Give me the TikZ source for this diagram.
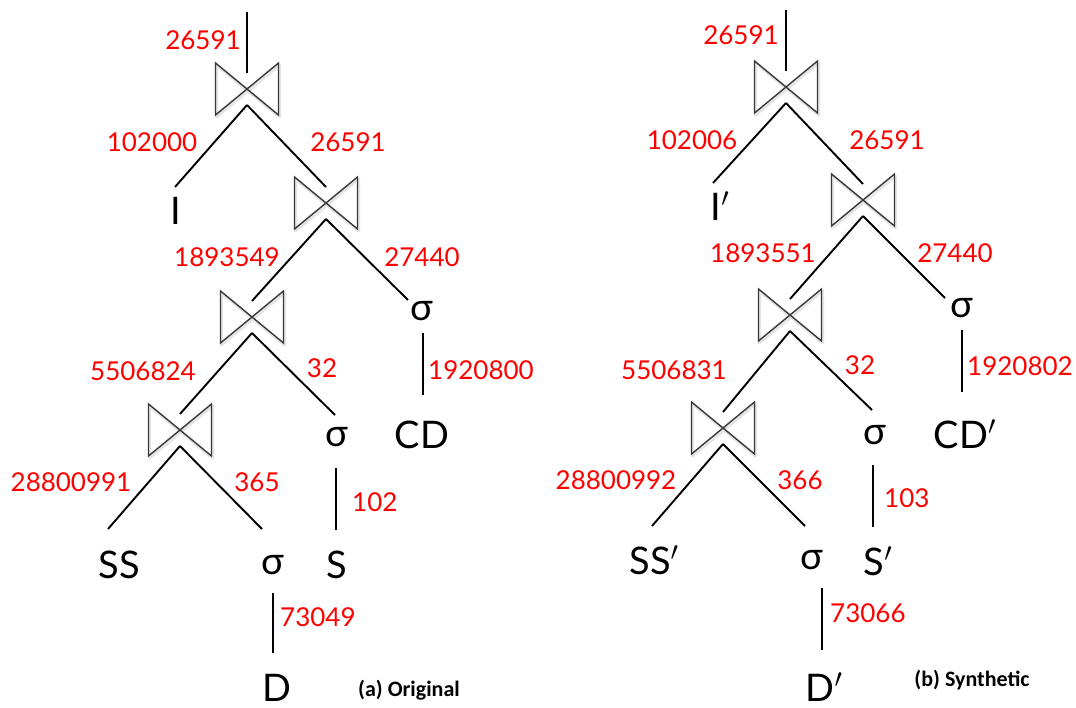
\documentclass[tikz,border=0pt]{standalone}
\usepackage{fontspec}
\setmainfont{Lato}
\newfontfamily\capfont{Carlito}
\usetikzlibrary{calc}

% let the math symbol font scale freely, so the prime follows the text size
\DeclareFontShape{OMS}{cmsy}{m}{n}{<->cmsy10}{}
\newcommand\pmark{\ensuremath{'}}

% join symbol drawn inside a named (empty) node
\newcommand\joinmark[1]{%
  \draw[bowshadow] ($(#1.north west)+(1,2)$) -- ($(#1.south east)+(1,2)$) -- ($(#1.north east)+(1,2)$) -- ($(#1.south west)+(1,2)$) -- cycle;
  \draw[bowline] (#1.north west) -- (#1.south east) -- (#1.north east) -- (#1.south west) -- cycle;
  \coordinate (#1-in) at ($(#1)+(0,-16)$);
  \coordinate (#1-out) at ($(#1)+(0,16)$);
}

\begin{document}
\begin{tikzpicture}[x=1pt,y=-1pt,
  joinbox/.style={minimum width=63, minimum height=52, inner sep=0, outer sep=0},
  bowline/.style={line width=1.4, draw=black!78, line join=miter},
  bowshadow/.style={line width=3, draw=black!10, line join=round},
  treeline/.style={line width=1.9, draw=black},
  num/.style={text=red, font=\fontsize{26}{26}\selectfont, inner sep=0},
  rel/.style={font=\fontsize{38}{38}\selectfont, inner sep=0},
  caption/.style={font=\capfont\bfseries\fontsize{22}{22}\selectfont, inner sep=0}]

\useasboundingbox (0,0) rectangle (1076,708);
\fill[white] (0,0) rectangle (1076,708);

% ---------------- (a) Original ----------------
\node[joinbox] (Lj1) at (247,89) {};
\node[joinbox] (Lj2) at (326,203) {};
\node[joinbox] (Lj3) at (252,317) {};
\node[joinbox] (Lj4) at (180,430) {};
\joinmark{Lj1}\joinmark{Lj2}\joinmark{Lj3}\joinmark{Lj4}

\node[rel] (LI) at (176,211) {I};
\node[rel] (Lsa) at (422,311) {σ};
\node[rel] (LCD) at (422,435) {CD};
\node[rel] (Lsb) at (337,437) {σ};
\node[rel] (LS) at (337,565) {S};
\node[rel] (LSS) at (119,565) {SS};
\node[rel] (Lsc) at (273,565) {σ};
\node[rel] (LD) at (277,688) {D};

\coordinate (Ltop) at (247,12);
\coordinate (LI-in) at ($(LI)+(-1,-24)$);
\coordinate (Lsa-in) at ($(Lsa)+(-14,-11)$);
\coordinate (Lsa-out) at ($(Lsa)+(1,22)$);
\coordinate (LCD-in) at ($(LCD)+(1,-40)$);
\coordinate (Lsb-in) at ($(Lsb)+(-2,-22)$);
\coordinate (Lsb-out) at ($(Lsb)+(-1,31)$);
\coordinate (LS-in) at ($(LS)+(-1,-35)$);
\coordinate (LSS-in) at ($(LSS)+(-11,-36)$);
\coordinate (Lsc-in) at ($(Lsc)+(-11,-36)$);
\coordinate (Lsc-out) at ($(Lsc)+(0,28)$);
\coordinate (LD-in) at ($(LD)+(-4,-35)$);

\draw[treeline] (Ltop) -- (Lj1-in);
\draw[treeline] (Lj1-out) -- (LI-in);
\draw[treeline] (Lj1-out) -- (Lj2-in);
\draw[treeline] (Lj2-out) -- (Lj3-in);
\draw[treeline] (Lj2-out) -- (Lsa-in);
\draw[treeline] (Lsa-out) -- (LCD-in);
\draw[treeline] (Lj3-out) -- (Lj4-in);
\draw[treeline] (Lj3-out) -- (Lsb-in);
\draw[treeline] (Lsb-out) -- (LS-in);
\draw[treeline] (Lj4-out) -- (LSS-in);
\draw[treeline] (Lj4-out) -- (Lsc-in);
\draw[treeline] (Lsc-out) -- (LD-in);

\node[num] (Ln1) at (203,40) {26591};
\node[num] (Ln2) at (152,142) {102000};
\node[num] (Ln3) at (348,142) {26591};
\node[num] (Ln4) at (227,257) {1893549};
\node[num] (Ln5) at (422,257) {27440};
\node[num, anchor=west] (Ln6) at (428,370) {1920800};
\node[num] (Ln7) at (143,371) {5506824};
\node[num] (Ln8) at (322,368) {32};
\node[num] (Ln9) at (71,482) {28800991};
\node[num] (Ln10) at (257,482) {365};
\node[num, anchor=west] (Ln11) at (352,502) {102};
\node[num, anchor=west] (Ln12) at (280,617) {73049};
\node[caption] (Lcap) at (409,690) {(a) Original};

% ---------------- (b) Synthetic ----------------
\node[joinbox] (Rj1) at (786,87) {};
\node[joinbox] (Rj2) at (863,200) {};
\node[joinbox] (Rj3) at (790,315) {};
\node[joinbox] (Rj4) at (723,428) {};
\joinmark{Rj1}\joinmark{Rj2}\joinmark{Rj3}\joinmark{Rj4}

\node[rel] (RI) at (720,206) {I\pmark};
\node[rel] (Rsa) at (962,308) {σ};
\node[rel] (RCD) at (965,434) {CD\pmark};
\node[rel] (Rsb) at (875,435) {σ};
\node[rel] (RS) at (878,561) {S\pmark};
\node[rel] (RSS) at (654,560) {SS\pmark};
\node[rel] (Rsc) at (812,560) {σ};
\node[rel] (RD) at (824,687) {D\pmark};

\coordinate (Rtop) at (786,10);
\coordinate (RI-in) at ($(RI)+(-7,-23)$);
\coordinate (Rsa-in) at ($(Rsa)+(-17,-10)$);
\coordinate (Rsa-out) at ($(Rsa)+(0,22)$);
\coordinate (RCD-in) at ($(RCD)+(-3,-42)$);
\coordinate (Rsb-in) at ($(Rsb)+(-3,-25)$);
\coordinate (Rsb-out) at ($(Rsb)+(-2,30)$);
\coordinate (RS-in) at ($(RS)+(-5,-34)$);
\coordinate (RSS-in) at ($(RSS)+(-2,-34)$);
\coordinate (Rsc-in) at ($(Rsc)+(-7,-34)$);
\coordinate (Rsc-out) at ($(Rsc)+(10,28)$);
\coordinate (RD-in) at ($(RD)+(-2,-37)$);

\draw[treeline] (Rtop) -- (Rj1-in);
\draw[treeline] (Rj1-out) -- (RI-in);
\draw[treeline] (Rj1-out) -- (Rj2-in);
\draw[treeline] (Rj2-out) -- (Rj3-in);
\draw[treeline] (Rj2-out) -- (Rsa-in);
\draw[treeline] (Rsa-out) -- (RCD-in);
\draw[treeline] (Rj3-out) -- (Rj4-in);
\draw[treeline] (Rj3-out) -- (Rsb-in);
\draw[treeline] (Rsb-out) -- (RS-in);
\draw[treeline] (Rj4-out) -- (RSS-in);
\draw[treeline] (Rj4-out) -- (Rsc-in);
\draw[treeline] (Rsc-out) -- (RD-in);

\node[num] (Rn1) at (741,35) {26591};
\node[num] (Rn2) at (692,140) {102006};
\node[num] (Rn3) at (887,140) {26591};
\node[num] (Rn4) at (763,253) {1893551};
\node[num] (Rn5) at (955,253) {27440};
\node[num, anchor=west] (Rn6) at (967,366) {1920802};
\node[num] (Rn7) at (674,370) {5506831};
\node[num] (Rn8) at (860,365) {32};
\node[num] (Rn9) at (616,480) {28800992};
\node[num] (Rn10) at (800,480) {366};
\node[num, anchor=west] (Rn11) at (884,498) {103};
\node[num, anchor=west] (Rn12) at (830,613) {73066};
\node[caption] (Rcap) at (972,680) {(b) Synthetic};
\end{tikzpicture}
\end{document}
